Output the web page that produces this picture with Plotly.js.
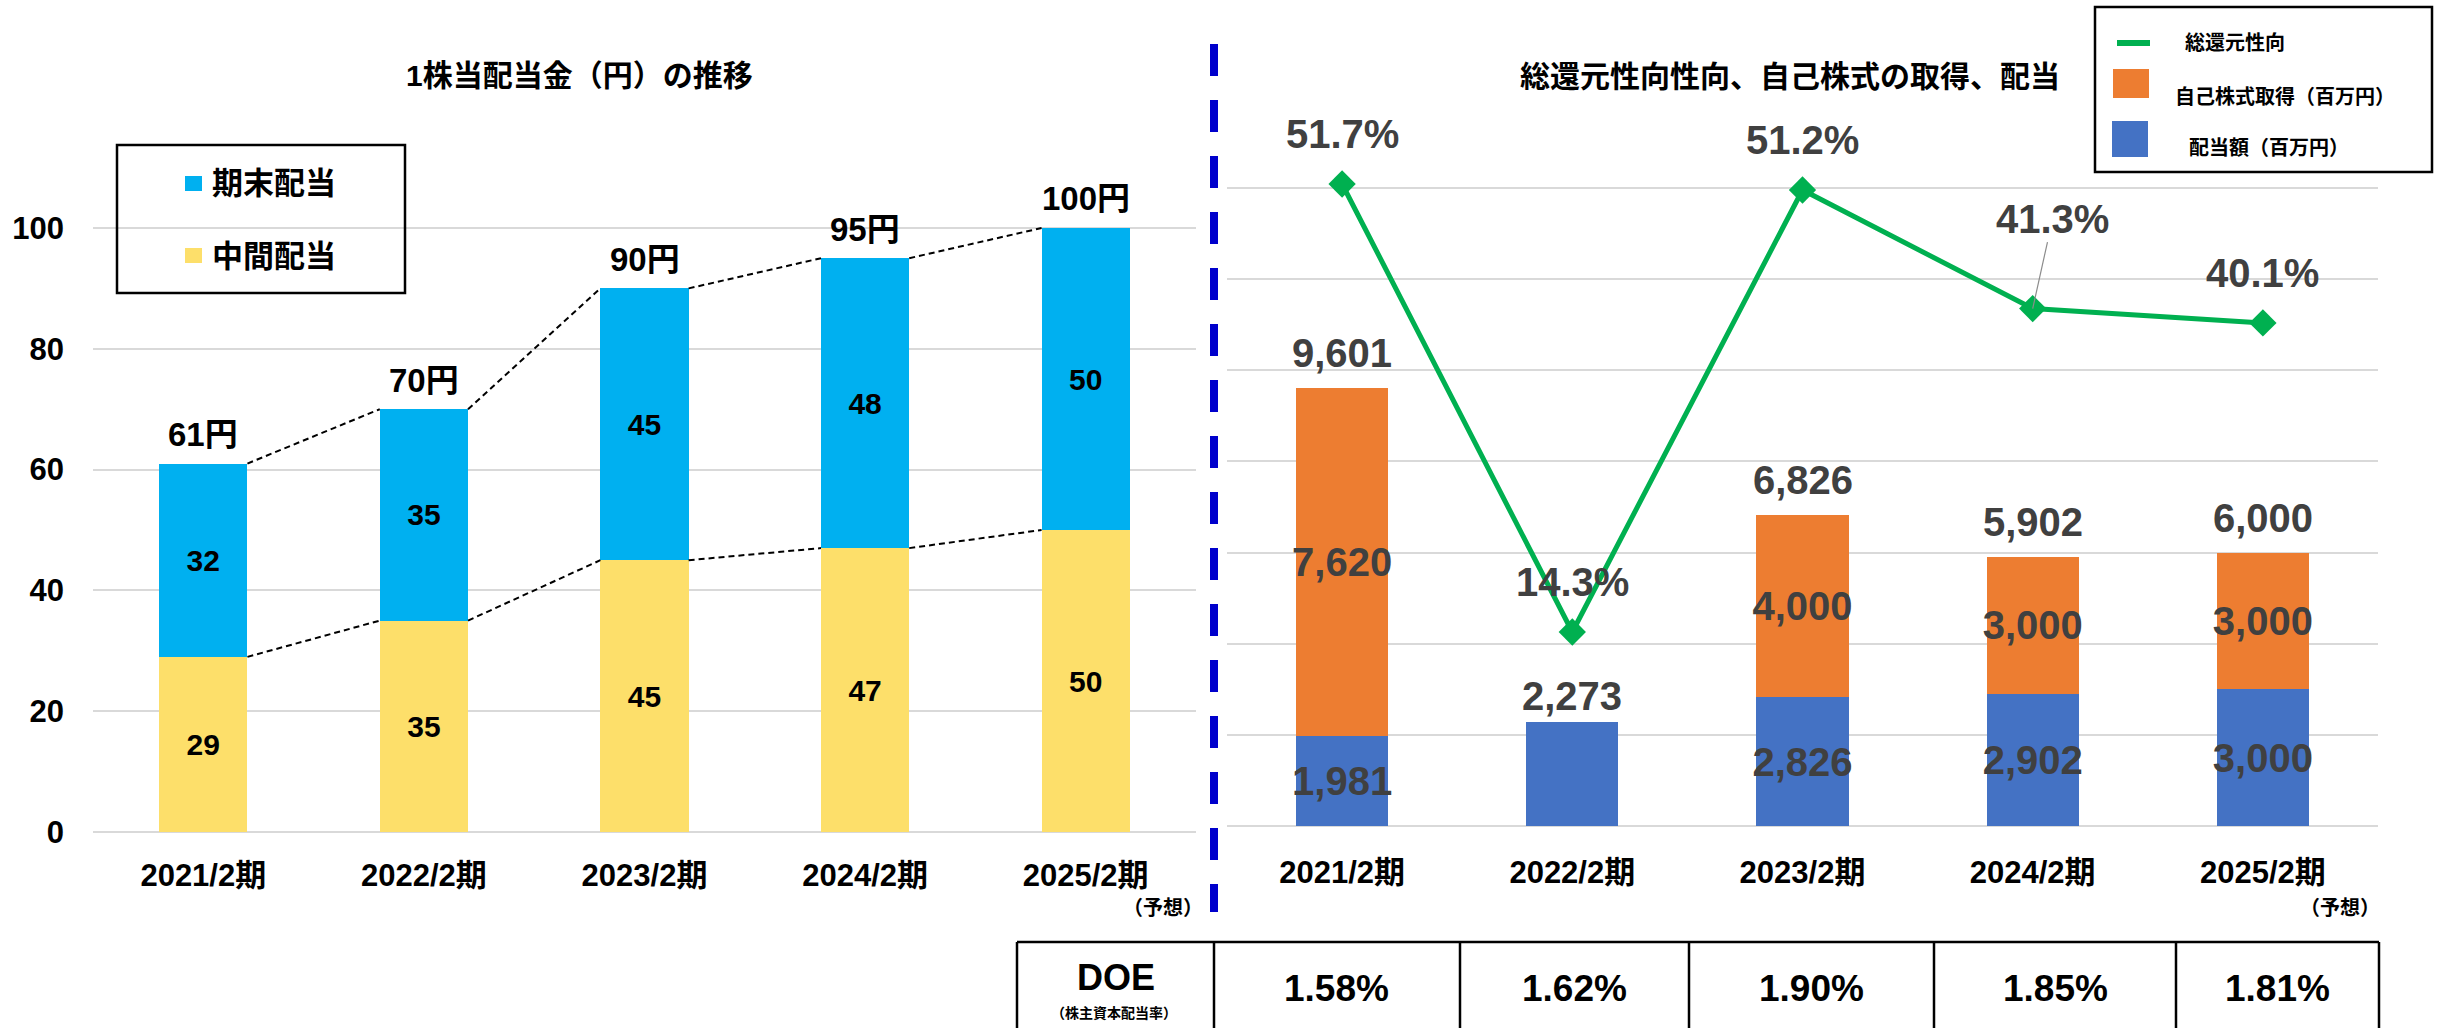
<!DOCTYPE html>
<html>
<head>
<meta charset="utf-8">
<script src="https://cdn.plot.ly/plotly-3.0.1.min.js"></script>
<style>
html, body { margin: 0; padding: 0; background: #ffffff; }
#chart { width: 2437px; height: 1028px; }
</style>
</head>
<body>
<div id="chart"></div>
<script>
// ---------------- data ----------------
const categories = ['2021/2期', '2022/2期', '2023/2期', '2024/2期', '2025/2期'];
const interimDividend = [29, 35, 45, 47, 50];          // 中間配当（円）
const yearEndDividend = [32, 35, 45, 48, 50];          // 期末配当（円）
const dividendAmount = [1981, 2273, 2826, 2902, 3000]; // 配当額（百万円）
const buybackAmount = [7620, 0, 4000, 3000, 3000];     // 自己株式取得（百万円）
const totalPayoutRatio = [51.7, 14.3, 51.2, 41.3, 40.1]; // 総還元性向（%）
const doeValues = [1.58, 1.62, 1.90, 1.85, 1.81];      // DOE（%）

const seriesNames = {
  interim: '中間配当',
  yearEnd: '期末配当',
  dividend: '配当額（百万円）',
  buyback: '自己株式取得（百万円）',
  payout: '総還元性向'
};
const leftTitle = '1株当配当金（円）の推移';
const rightTitle = '総還元性向性向、自己株式の取得、配当';
const forecastNote = '（予想）';
const doeLabel = 'DOE';
const doeSubLabel = '（株主資本配当率）';

// ---------------- helpers / style ----------------
const W = 2437, H = 1028;
const px = v => v / W;
const py = v => 1 - v / H;
const FONT = '"Liberation Sans", Arial, "Noto Sans CJK JP", sans-serif';
const BOLD = 700;
const fmt = n => n.toLocaleString('en-US');
const idx = categories.map((_, i) => i);
const barW = 0.4;

const perShareTotal = interimDividend.map((v, i) => v + yearEndDividend[i]);
const returnTotal = dividendAmount.map((v, i) => v + buybackAmount[i]);

function connector(vals) {
  const xs = [], ys = [];
  for (let i = 0; i < vals.length - 1; i++) {
    xs.push(i + barW / 2, i + 1 - barW / 2, null);
    ys.push(vals[i], vals[i + 1], null);
  }
  return { xs, ys };
}
const conTop = connector(perShareTotal);
const conMid = connector(interimDividend);

const insideLeftFont = { family: FONT, size: 30, color: '#000000', weight: BOLD };
const insideRightFont = { family: FONT, size: 40, color: '#404040', weight: BOLD };

const traces = [
  {
    type: 'bar', name: seriesNames.interim, x: idx, y: interimDividend,
    xaxis: 'x', yaxis: 'y', width: barW, marker: { color: '#FDDF6A' },
    text: interimDividend.map(String), textposition: 'inside', insidetextanchor: 'middle',
    textangle: 0, constraintext: 'none', textfont: insideLeftFont, hoverinfo: 'skip'
  },
  {
    type: 'bar', name: seriesNames.yearEnd, x: idx, y: yearEndDividend,
    xaxis: 'x', yaxis: 'y', width: barW, marker: { color: '#00B0F0' },
    text: yearEndDividend.map(String), textposition: 'inside', insidetextanchor: 'middle',
    textangle: 0, constraintext: 'none', textfont: insideLeftFont, hoverinfo: 'skip'
  },
  {
    type: 'scatter', mode: 'lines', x: conTop.xs, y: conTop.ys, xaxis: 'x', yaxis: 'y',
    line: { color: '#000000', width: 2, dash: '6px,4px' }, connectgaps: false, hoverinfo: 'skip'
  },
  {
    type: 'scatter', mode: 'lines', x: conMid.xs, y: conMid.ys, xaxis: 'x', yaxis: 'y',
    line: { color: '#000000', width: 2, dash: '6px,4px' }, connectgaps: false, hoverinfo: 'skip'
  },
  {
    type: 'bar', name: seriesNames.dividend, x: idx, y: dividendAmount,
    xaxis: 'x2', yaxis: 'y2', width: barW, marker: { color: '#4472C4' },
    text: dividendAmount.map((v, i) => buybackAmount[i] ? fmt(v) : ''),
    textposition: 'inside', insidetextanchor: 'middle', textangle: 0, constraintext: 'none',
    textfont: insideRightFont, hoverinfo: 'skip'
  },
  {
    type: 'bar', name: seriesNames.buyback, x: idx, y: buybackAmount,
    xaxis: 'x2', yaxis: 'y2', width: barW, marker: { color: '#ED7D31' },
    text: buybackAmount.map(v => v ? fmt(v) : ''),
    textposition: 'inside', insidetextanchor: 'middle', textangle: 0, constraintext: 'none',
    textfont: insideRightFont, hoverinfo: 'skip'
  },
  {
    type: 'scatter', name: seriesNames.payout, mode: 'lines+markers', x: idx, y: totalPayoutRatio,
    xaxis: 'x2', yaxis: 'y3', cliponaxis: false,
    line: { color: '#00B050', width: 5 },
    marker: { symbol: 'diamond', size: 21, color: '#00B050' }, hoverinfo: 'skip'
  }
];

// ---------------- annotations ----------------
const ann = [];
const txt = (x, y, text, size, extra) => Object.assign({
  xref: 'paper', yref: 'paper', x: px(x), y: py(y), text: text, showarrow: false,
  xanchor: 'center', yanchor: 'middle',
  font: { family: FONT, size: size, color: '#000000', weight: BOLD }
}, extra || {});

ann.push(txt(579, 76, leftTitle, 30));
ann.push(txt(1790, 77, rightTitle, 30));

// left totals
perShareTotal.forEach((v, i) => ann.push({
  xref: 'x', yref: 'y', x: i, y: v, text: v + '円', showarrow: false,
  yanchor: 'middle', xanchor: 'center', yshift: 29,
  font: { family: FONT, size: 33, color: '#000000', weight: BOLD }
}));

// right totals
returnTotal.forEach((v, i) => ann.push({
  xref: 'x2', yref: 'y2', x: i, y: v, text: fmt(v), showarrow: false,
  yanchor: 'middle', xanchor: 'center', yshift: buybackAmount[i] ? 35 : 26,
  font: { family: FONT, size: 40, color: '#404040', weight: BOLD }
}));

// payout ratio labels
const leaderIndex = 3;
totalPayoutRatio.forEach((v, i) => {
  const a = {
    xref: 'x2', yref: 'y3', x: i, y: v, text: v.toFixed(1) + '%',
    xanchor: 'center', yanchor: 'middle',
    font: { family: FONT, size: 40, color: '#404040', weight: BOLD }
  };
  if (i === leaderIndex) {
    Object.assign(a, { showarrow: true, arrowhead: 0, arrowwidth: 1.2, arrowcolor: '#8c8c8c',
      ax: 20, ay: -90, standoff: 0 });
  } else {
    Object.assign(a, { showarrow: false, yshift: 50 });
  }
  ann.push(a);
});

// forecast notes
ann.push(txt(1163, 908, forecastNote, 20));
ann.push(txt(2340, 908, forecastNote, 20));

// left legend texts
ann.push(txt(210, 183, seriesNames.yearEnd, 31, { xanchor: 'left' }));
ann.push(txt(210, 256, seriesNames.interim, 31, { xanchor: 'left' }));

// right legend texts
ann.push(txt(2183, 43, seriesNames.payout, 20, { xanchor: 'left' }));
ann.push(txt(2173, 97, seriesNames.buyback, 20, { xanchor: 'left' }));
ann.push(txt(2187, 148, seriesNames.dividend, 20, { xanchor: 'left' }));

// DOE table
const tableEdges = [1017, 1214, 1460, 1689, 1934, 2176, 2379];
const tableTop = 942;
ann.push(txt((tableEdges[0] + tableEdges[1]) / 2, 977, doeLabel, 36));
ann.push(txt((tableEdges[0] + tableEdges[1]) / 2 - 2, 1013, doeSubLabel, 14));
doeValues.forEach((v, i) => {
  ann.push(txt((tableEdges[i + 1] + tableEdges[i + 2]) / 2, 988, v.toFixed(2) + '%', 37));
});

// ---------------- shapes ----------------
const shapes = [];
const rect = (x0, y0, x1, y1, fill, lineW) => ({
  type: 'rect', xref: 'paper', yref: 'paper', x0: px(x0), x1: px(x1), y0: py(y1), y1: py(y0),
  fillcolor: fill, line: { color: '#000000', width: lineW }
});
const seg = (x0, y0, x1, y1, color, width, dash) => ({
  type: 'line', xref: 'paper', yref: 'paper', x0: px(x0), x1: px(x1), y0: py(y0), y1: py(y1),
  line: { color: color, width: width, dash: dash || 'solid' }
});

// divider
shapes.push(seg(1214, 44, 1214, 912, '#0000CC', 8, '32px,24px'));
// left legend
shapes.push(rect(117, 145, 405, 293, 'rgba(0,0,0,0)', 2.5));
shapes.push(rect(185, 176, 202, 191, '#00B0F0', 0));
shapes.push(rect(185, 248, 202, 263, '#FDDF6A', 0));
// right legend
shapes.push(rect(2095, 7, 2432, 172, 'rgba(0,0,0,0)', 2.5));
shapes.push(seg(2117, 43, 2150, 43, '#00B050', 6));
shapes.push(rect(2113, 69, 2149, 98, '#ED7D31', 0));
shapes.push(rect(2112, 121, 2148, 157, '#4472C4', 0));
// table
shapes.push(seg(tableEdges[0], tableTop, tableEdges[tableEdges.length - 1], tableTop, '#000000', 2.5));
tableEdges.forEach(x => shapes.push(seg(x, tableTop, x, H, '#000000', 2.5)));

// ---------------- layout ----------------
const tickFont = { family: FONT, size: 31, color: '#000000', weight: BOLD };
const leftZero = 832, leftPxPerUnit = 6.04, leftMax = 105;
const rightZero = 826, rightPxPerUnit = 638 / 14000, rightMax = 15000;
const rightTopPx = rightZero - rightMax * rightPxPerUnit;
const pctPx = 11.979, pctZero = 803.3;

const layout = {
  width: W, height: H,
  margin: { l: 0, r: 0, t: 0, b: 0, pad: 0 },
  paper_bgcolor: '#ffffff', plot_bgcolor: 'rgba(0,0,0,0)',
  barmode: 'stack', showlegend: false,
  font: { family: FONT, color: '#000000' },
  xaxis: {
    domain: [px(93), px(1196)], anchor: 'y', range: [-0.5, 4.5],
    tickmode: 'array', tickvals: idx, ticktext: categories,
    showgrid: false, zeroline: false, showline: false, ticks: '',
    tickfont: tickFont, ticklabelstandoff: 22, fixedrange: true
  },
  yaxis: {
    domain: [py(leftZero), py(leftZero - leftMax * leftPxPerUnit)], anchor: 'x',
    range: [0, leftMax], tick0: 0, dtick: 20,
    showgrid: true, gridcolor: '#d9d9d9', gridwidth: 2,
    zeroline: true, zerolinecolor: '#d9d9d9', zerolinewidth: 2,
    showline: false, ticks: '', tickfont: tickFont, ticklabelstandoff: 28, fixedrange: true
  },
  xaxis2: {
    domain: [px(1227), px(2378)], anchor: 'y2', range: [-0.5, 4.5],
    tickmode: 'array', tickvals: idx, ticktext: categories,
    showgrid: false, zeroline: false, showline: false, ticks: '',
    tickfont: tickFont, ticklabelstandoff: 25, fixedrange: true
  },
  yaxis2: {
    domain: [py(rightZero), py(rightTopPx)], anchor: 'x2',
    range: [0, rightMax], tick0: 0, dtick: 2000,
    showgrid: true, gridcolor: '#d9d9d9', gridwidth: 2,
    zeroline: true, zerolinecolor: '#d9d9d9', zerolinewidth: 2,
    showline: false, showticklabels: false, ticks: '', fixedrange: true
  },
  yaxis3: {
    overlaying: 'y2', anchor: 'x2', side: 'right',
    range: [-(rightZero - pctZero) / pctPx, (pctZero - rightTopPx) / pctPx],
    visible: false, showgrid: false, zeroline: false, fixedrange: true
  },
  shapes: shapes,
  annotations: ann
};

Plotly.newPlot('chart', traces, layout, { displayModeBar: false, staticPlot: true });
</script>
</body>
</html>
